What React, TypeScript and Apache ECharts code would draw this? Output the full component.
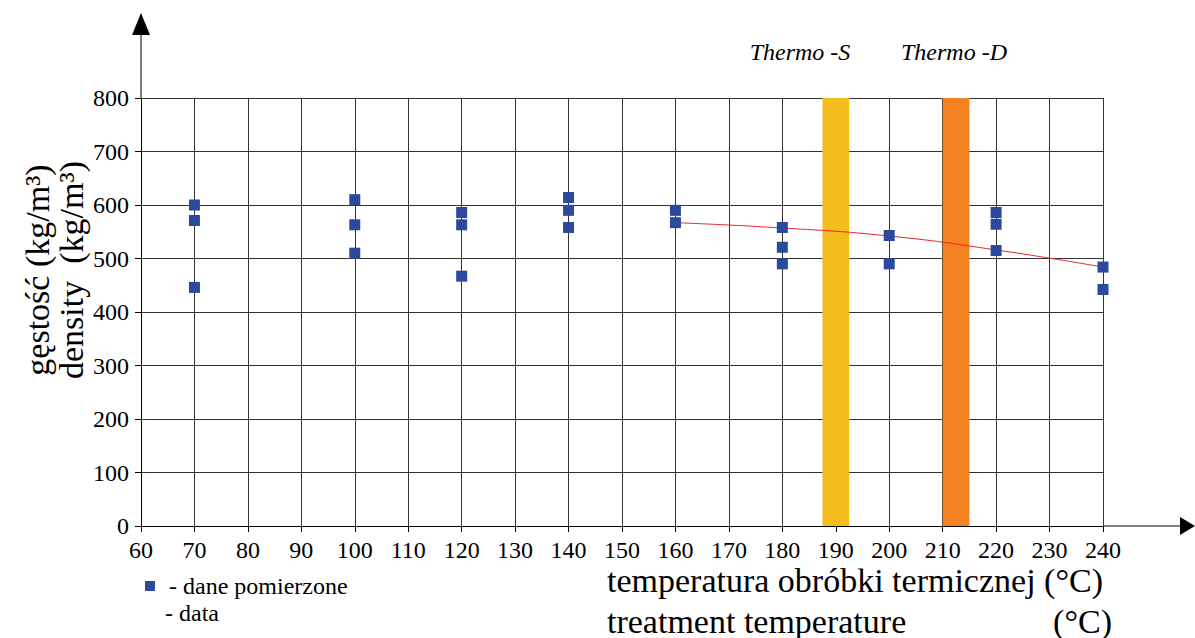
import React, { useEffect, useRef } from "react";
import * as echarts from "echarts";

// measured points
const temps = [70, 70, 70, 100, 100, 100, 120, 120, 120, 140, 140, 140, 160, 160, 180, 180, 180, 200, 200, 220, 220, 220, 240, 240];
const densities = [600, 571, 446, 610, 563, 510, 586, 563, 467, 614, 590, 558, 590, 567, 558, 521, 490, 543, 490, 586, 564, 515, 484, 442];

// trend line
const trendTemps = [160, 180, 200, 220, 240];
const trendDensity = [567, 557, 542, 516, 484];

// process bands
const thermoS = [187.5, 192.5];
const thermoD = [210, 215];
const bandNames = ["Thermo -S", "Thermo -D"];

// axes
const xMin = 60, xMax = 240, xStep = 10;
const yMin = 0, yMax = 800, yStep = 100;

const FONT = "Liberation Serif";

export default function App() {
  const ref = useRef<HTMLDivElement>(null);
  useEffect(() => {
    if (!ref.current) return;
    const chart = echarts.init(ref.current, undefined, { renderer: "svg" });
    const axisLabel = { fontSize: 24, fontFamily: FONT, color: "#000", margin: 12 };
    chart.setOption({
      animation: false,
      backgroundColor: "#fff",
      textStyle: { fontFamily: FONT },
      grid: { left: 141, top: 98, width: 962, height: 428, containLabel: false },
      xAxis: {
        type: "value", min: xMin, max: xMax, interval: xStep,
        axisLine: { show: true, onZero: false, lineStyle: { color: "#000", width: 1 } },
        axisTick: { show: true, length: 6, lineStyle: { color: "#000" } },
        axisLabel,
        splitLine: { show: true, lineStyle: { color: "#333", width: 1 } },
      },
      yAxis: {
        type: "value", min: yMin, max: yMax, interval: yStep,
        axisLine: { show: true, lineStyle: { color: "#000", width: 1 } },
        axisTick: { show: true, length: 6, lineStyle: { color: "#000" } },
        axisLabel,
        splitLine: { show: true, lineStyle: { color: "#333", width: 1 } },
      },
      legend: {
        data: ["dane pomierzone"],
        left: 140, top: 569,
        icon: "rect", itemWidth: 10, itemHeight: 10,
        formatter: "- {name}",
        textStyle: { fontSize: 24, fontFamily: FONT, color: "#000", padding: [0, 0, 0, 9], lineHeight: 24 },
      },
      series: [
        {
          name: "bands", type: "line", data: [], z: 1, silent: true,
          markArea: {
            silent: true,
            data: [
              [{ xAxis: thermoS[0], yAxis: yMin, itemStyle: { color: "#F5BC1E", opacity: 1 } }, { xAxis: thermoS[1], yAxis: yMax }],
              [{ xAxis: thermoD[0], yAxis: yMin, itemStyle: { color: "#F58220", opacity: 1 } }, { xAxis: thermoD[1], yAxis: yMax }],
            ],
          },
        },
        {
          name: "trend", type: "line", smooth: true, showSymbol: false, z: 3,
          lineStyle: { color: "#E8262B", width: 1 },
          data: trendTemps.map((t, i) => [t, trendDensity[i]]),
        },
        {
          name: "dane pomierzone", type: "scatter", symbol: "rect", symbolSize: 11, z: 4,
          itemStyle: { color: "#2B4A9E", opacity: 1 },
          data: temps.map((t, i) => [t, densities[i]]),
        },
      ],
      graphic: [
        { type: "line", shape: { x1: 141, y1: 98, x2: 141, y2: 34 }, style: { stroke: "#000", lineWidth: 1 } },
        { type: "polygon", shape: { points: [[132, 35], [150, 35], [141, 13]] }, style: { fill: "#000" } },
        { type: "line", shape: { x1: 1103, y1: 526, x2: 1181, y2: 526 }, style: { stroke: "#000", lineWidth: 1 } },
        { type: "polygon", shape: { points: [[1180, 517], [1180, 535], [1195, 526]] }, style: { fill: "#000" } },
        { type: "text", x: 800, y: 52, style: { text: bandNames[0], font: `italic 24px ${FONT}`, fill: "#000", textAlign: "center", textVerticalAlign: "middle" } },
        { type: "text", x: 954, y: 52, style: { text: bandNames[1], font: `italic 24px ${FONT}`, fill: "#000", textAlign: "center", textVerticalAlign: "middle" } },
        { type: "text", x: 37, y: 270, rotation: Math.PI / 2, style: { text: "gęstość (kg/m³)", font: `34px ${FONT}`, fill: "#000", textAlign: "center", textVerticalAlign: "middle" } },
        { type: "text", x: 71, y: 270, rotation: Math.PI / 2, style: { text: "density  (kg/m³)", font: `34px ${FONT}`, fill: "#000", textAlign: "center", textVerticalAlign: "middle" } },
        { type: "text", x: 607, y: 580, style: { text: "temperatura obróbki termicznej (°C)", font: `34px ${FONT}`, fill: "#000", textAlign: "left", textVerticalAlign: "middle" } },
        { type: "text", x: 607, y: 621, style: { text: "treatment temperature", font: `34px ${FONT}`, fill: "#000", textAlign: "left", textVerticalAlign: "middle" } },
        { type: "text", x: 1112, y: 621, style: { text: "(°C)", font: `34px ${FONT}`, fill: "#000", textAlign: "right", textVerticalAlign: "middle" } },
        { type: "text", x: 165, y: 613, style: { text: "- data", font: `24px ${FONT}`, fill: "#000", textAlign: "left", textVerticalAlign: "middle" } },
      ],
    });
    return () => chart.dispose();
  }, []);
  return <div ref={ref} style={{ position: "fixed", left: 0, top: 0, width: 1195, height: 638 }} />;
}
